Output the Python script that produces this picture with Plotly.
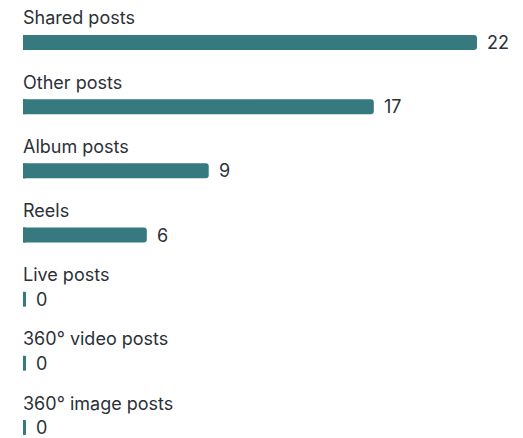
import plotly.graph_objects as go

categories = ["Shared posts", "Other posts", "Album posts", "Reels",
              "Live posts", "360° video posts", "360° image posts"]
values = [22, 17, 9, 6, 0, 0, 0]

BAR_COLOR = "#367A80"
TEXT_COLOR = "#2B3138"
FONT = "Inter, 'Open Sans', Arial, sans-serif"
FONT_SIZE = 18

# the page adds an 8px body margin, so the figure is 8px smaller
W, H = 515, 430
LEFT = 15
PX_PER_UNIT = 20.636
ROW_PX = 64.17
FIRST_CENTER = 34.5
BAR_PX = 15
STUB_PX = 3

n = len(categories)
ypos = list(range(n))
stub = STUB_PX / PX_PER_UNIT

fig = go.Figure()
# minimal visible stub (drawn for every row; hidden beneath non-zero bars)
fig.add_trace(go.Bar(
    x=[stub] * n, y=ypos, orientation="h",
    width=BAR_PX / ROW_PX, marker=dict(color=BAR_COLOR, line=dict(width=0), cornerradius=1),
    hoverinfo="skip", showlegend=False,
))
fig.add_trace(go.Bar(
    x=values, y=ypos, orientation="h",
    width=BAR_PX / ROW_PX, marker=dict(color=BAR_COLOR, line=dict(width=0), cornerradius=3),
    hovertext=categories, hoverinfo="text+x", showlegend=False,
))

annotations = []
for i, (cat, v) in enumerate(zip(categories, values)):
    annotations.append(dict(
        x=0, y=i, xref="x", yref="y", text=cat, showarrow=False,
        xanchor="left", yanchor="bottom", yshift=12, xshift=-2,
        font=dict(family=FONT, size=FONT_SIZE, color=TEXT_COLOR),
    ))
    annotations.append(dict(
        x=max(v, stub), y=i, xref="x", yref="y", text=str(v), showarrow=False,
        xanchor="left", yanchor="middle", xshift=8,
        font=dict(family=FONT, size=FONT_SIZE, color=TEXT_COLOR),
    ))

fig.update_layout(
    width=W, height=H,
    margin=dict(l=LEFT, r=0, t=0, b=0),
    paper_bgcolor="white", plot_bgcolor="white",
    barmode="overlay",
    xaxis=dict(range=[0, (W - LEFT) / PX_PER_UNIT], visible=False, fixedrange=True),
    yaxis=dict(range=[(H - FIRST_CENTER) / ROW_PX, -FIRST_CENTER / ROW_PX],
               visible=False, fixedrange=True),
    annotations=annotations,
    showlegend=False,
)

fig.write_html("out.html", config={"displayModeBar": False})
